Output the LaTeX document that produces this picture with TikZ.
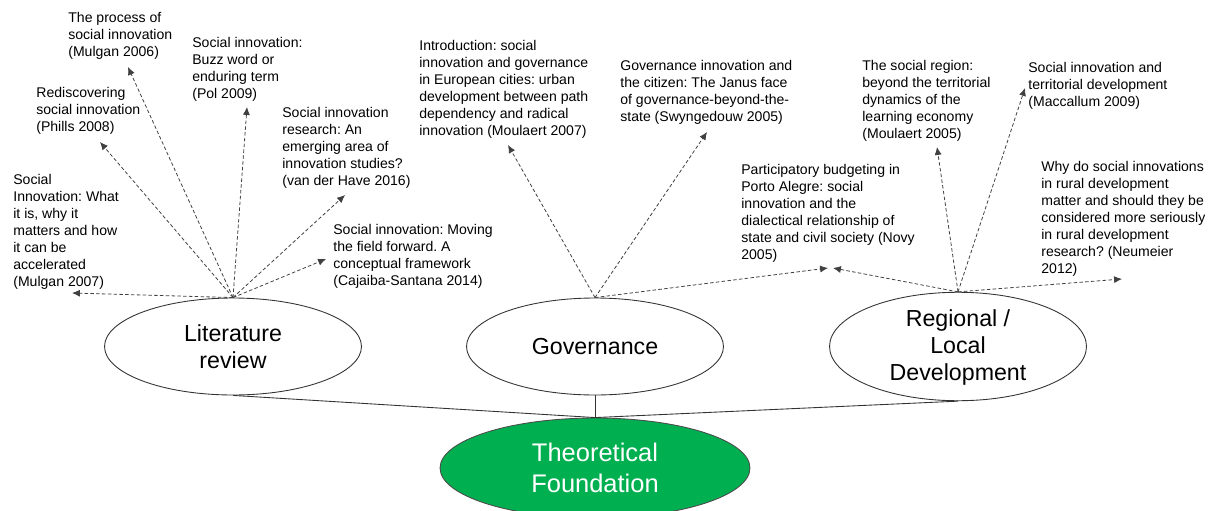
\documentclass[tikz,border=0pt]{standalone}
\usepackage{fontspec}
\setmainfont{Liberation Sans}
\usetikzlibrary{shapes,arrows.meta,positioning}
\definecolor{fgreen}{RGB}{0,176,80}
\frenchspacing

\tikzset{
  refnote/.style={anchor=north west, inner sep=0pt, align=left, font=\fontsize{8}{9.7}\selectfont},
  topic/.style={ellipse, draw=black!80, line width=0.5pt, inner sep=0pt, minimum width=5.14cm, minimum height=1.94cm, align=center, font=\fontsize{13.2}{15.3}\selectfont},
  found/.style={ellipse, draw=black!70, fill=fgreen, text=white, line width=0.5pt, inner sep=0pt, minimum width=6.2cm, minimum height=2cm, align=center, font=\fontsize{14.5}{18}\selectfont},
  link/.style={draw=black!75, line width=0.45pt, dash pattern=on 2pt off 1.3pt, -{Latex[length=4.5pt,width=4pt]}}
}

\begin{document}
\begin{tikzpicture}[x=0.02cm, y=-0.02cm]
\useasboundingbox (0,0) rectangle (1212,510);
\clip (0,0) rectangle (1212,510);

% three themes and the foundation
\node[topic] (lit) at (233,346.5) {Literature\\review};
\node[topic] (gov) at (595,346.5) {Governance};
\node[topic] (reg) at (958,346.5) {\\[-5pt]Regional /\\Local\\Development};
\node[found] (found) at (595,468) {Theoretical\\Foundation};

\draw[black!80, line width=0.5pt] (lit.south) -- (found.north);
\draw[black!80, line width=0.5pt] (gov.south) -- (found.north);
\draw[black!80, line width=0.5pt] (reg.south) -- (found.north);

% literature review
\node[refnote] (mulgan06) at (68,12) {The process of\\social innovation\\(Mulgan 2006)};
\node[refnote] (phills) at (36,87) {Rediscovering\\social innovation\\(Phills 2008)};
\node[refnote] (mulgan07) at (13,174) {Social\\Innovation: What\\it is, why it\\matters and how\\it can be\\accelerated\\(Mulgan 2007)};
\node[refnote] (pol) at (192,37) {Social innovation:\\Buzz word or\\enduring term\\(Pol 2009)};
\node[refnote] (vdhave) at (282,107) {Social innovation\\research: An\\emerging area of\\innovation studies?\\(van der Have 2016)};
\node[refnote] (cajaiba) at (333,224) {Social innovation: Moving\\the field forward. A\\conceptual framework\\(Cajaiba-Santana 2014)};

\coordinate (to-mulgan07) at (72,293);
\coordinate (to-phills) at (100,142);
\coordinate (to-mulgan06) at (128,67);
\coordinate (to-pol) at (247,107);
\coordinate (to-vdhave) at (345,195);
\coordinate (to-cajaiba) at (326,259);
\draw[link] (lit.north) -- (to-mulgan07);
\draw[link] (lit.north) -- (to-phills);
\draw[link] (lit.north) -- (to-mulgan06);
\draw[link] (lit.north) -- (to-pol);
\draw[link] (lit.north) -- (to-vdhave);
\draw[link] (lit.north) -- (to-cajaiba);

% governance
\node[refnote] (moulaert07) at (419,40) {Introduction: social\\innovation and governance\\in European cities: urban\\development between path\\dependency and radical\\innovation (Moulaert 2007)};
\node[refnote] (swyngedouw) at (620,60) {Governance innovation and\\the citizen: The Janus face\\of governance-beyond-the-\\state (Swyngedouw 2005)};
\node[refnote] (novy) at (741,164) {Participatory budgeting in\\Porto Alegre: social\\innovation and the\\dialectical relationship of\\state and civil society (Novy\\2005)};

\coordinate (to-moulaert07) at (508,145);
\coordinate (to-swyngedouw) at (707,132);
\coordinate (to-novy-l) at (828,268);
\coordinate (to-novy-r) at (833,268);
\draw[link] (gov.north) -- (to-moulaert07);
\draw[link] (gov.north) -- (to-swyngedouw);
\draw[link] (gov.north) -- (to-novy-l);

% regional / local development
\node[refnote] (moulaert05) at (862,60) {The social region:\\beyond the territorial\\dynamics of the\\learning economy\\(Moulaert 2005)};
\node[refnote] (maccallum) at (1028,62) {Social innovation and\\territorial development\\(Maccallum 2009)};
\node[refnote] (neumeier) at (1041,161) {Why do social innovations\\in rural development\\matter and should they be\\considered more seriously\\in rural development\\research? (Neumeier\\2012)};

\coordinate (to-moulaert05) at (937,147);
\coordinate (to-maccallum) at (1025,88);
\coordinate (to-neumeier) at (1122,279);
\draw[link] (reg.north) -- (to-novy-r);
\draw[link] (reg.north) -- (to-moulaert05);
\draw[link] (reg.north) -- (to-maccallum);
\draw[link] (reg.north) -- (to-neumeier);
\end{tikzpicture}
\end{document}
